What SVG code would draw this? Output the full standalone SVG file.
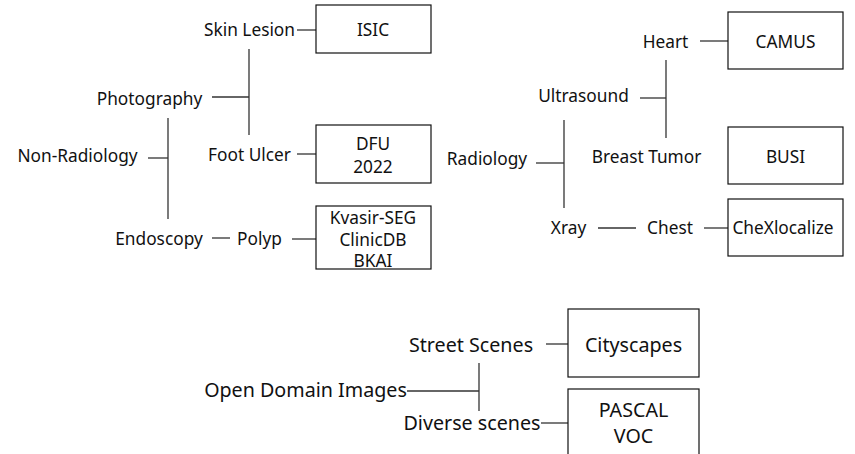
<svg xmlns="http://www.w3.org/2000/svg" width="855" height="454" viewBox="0 0 855 454">
<style>
text{font-family:"Noto Sans","Open Sans","DejaVu Sans",sans-serif;font-size:17.3px;fill:#111;text-anchor:middle}
.big{font-size:19.7px}
.box{fill:#fff;stroke:#111;stroke-width:1.2}
.c line{stroke:#333;stroke-width:1.3}
</style>
<rect width="855" height="454" fill="#fff"/>
<g class="c" id="connectors">
<line x1="297" y1="30" x2="316" y2="30"/>
<line x1="249" y1="49" x2="249" y2="135"/>
<line x1="212" y1="97" x2="249" y2="97"/>
<line x1="168" y1="118" x2="168" y2="219"/>
<line x1="148" y1="158" x2="168" y2="158"/>
<line x1="297" y1="154" x2="316" y2="154"/>
<line x1="212" y1="238" x2="230" y2="238"/>
<line x1="292" y1="239" x2="316" y2="239"/>
<line x1="700" y1="41" x2="728" y2="41"/>
<line x1="666" y1="60" x2="666" y2="138"/>
<line x1="640" y1="98" x2="666" y2="98"/>
<line x1="564" y1="120" x2="564" y2="208"/>
<line x1="536" y1="163" x2="564" y2="163"/>
<line x1="598" y1="228" x2="636" y2="228"/>
<line x1="704" y1="228" x2="728" y2="228"/>
<line x1="546" y1="344" x2="568" y2="344"/>
<line x1="479" y1="363" x2="479" y2="411"/>
<line x1="407" y1="391" x2="479" y2="391"/>
<line x1="541" y1="423" x2="568" y2="423"/>
</g>
<g id="skin-lesion"><text x="249.5" y="36">Skin Lesion</text></g>
<g id="isic"><rect class="box" x="316" y="5" width="115" height="48"/><text x="373" y="36">ISIC</text></g>
<g id="photography"><text x="149.5" y="105">Photography</text></g>
<g id="non-radiology"><text x="77.5" y="161.5">Non-Radiology</text></g>
<g id="foot-ulcer"><text x="249.5" y="161">Foot Ulcer</text></g>
<g id="dfu"><rect class="box" x="316" y="125" width="115" height="58"/><text x="373" y="149.5">DFU</text><text x="373" y="172.5">2022</text></g>
<g id="endoscopy"><text x="159" y="245">Endoscopy</text></g>
<g id="polyp"><text x="259.5" y="245">Polyp</text></g>
<g id="kvasir"><rect class="box" x="316" y="206" width="115" height="63"/><text x="373" y="223.5">Kvasir-SEG</text><text x="373" y="246">ClinicDB</text><text x="373" y="267">BKAI</text></g>
<g id="heart"><text x="665.5" y="48">Heart</text></g>
<g id="camus"><rect class="box" x="728" y="12" width="115" height="57"/><text x="785.5" y="48">CAMUS</text></g>
<g id="ultrasound"><text x="583.5" y="102">Ultrasound</text></g>
<g id="radiology"><text x="487" y="165">Radiology</text></g>
<g id="breast-tumor"><text x="646.5" y="163">Breast Tumor</text></g>
<g id="busi"><rect class="box" x="728" y="127" width="115" height="57"/><text x="785.5" y="163">BUSI</text></g>
<g id="xray"><text x="568.5" y="234">Xray</text></g>
<g id="chest"><text x="670" y="234">Chest</text></g>
<g id="chexlocalize"><rect class="box" x="728" y="199" width="115" height="57"/><text x="783" y="234">CheXlocalize</text></g>
<g id="street-scenes"><text class="big" x="471" y="352">Street Scenes</text></g>
<g id="cityscapes"><rect class="box" x="568" y="309" width="131" height="68"/><text class="big" x="633.5" y="352">Cityscapes</text></g>
<g id="open-domain"><text class="big" x="305.5" y="397">Open Domain Images</text></g>
<g id="diverse-scenes"><text class="big" x="472" y="430">Diverse scenes</text></g>
<g id="pascal-voc"><rect class="box" x="568" y="389" width="131" height="70"/><text class="big" x="633.5" y="417">PASCAL</text><text class="big" x="633.5" y="443">VOC</text></g>
</svg>
